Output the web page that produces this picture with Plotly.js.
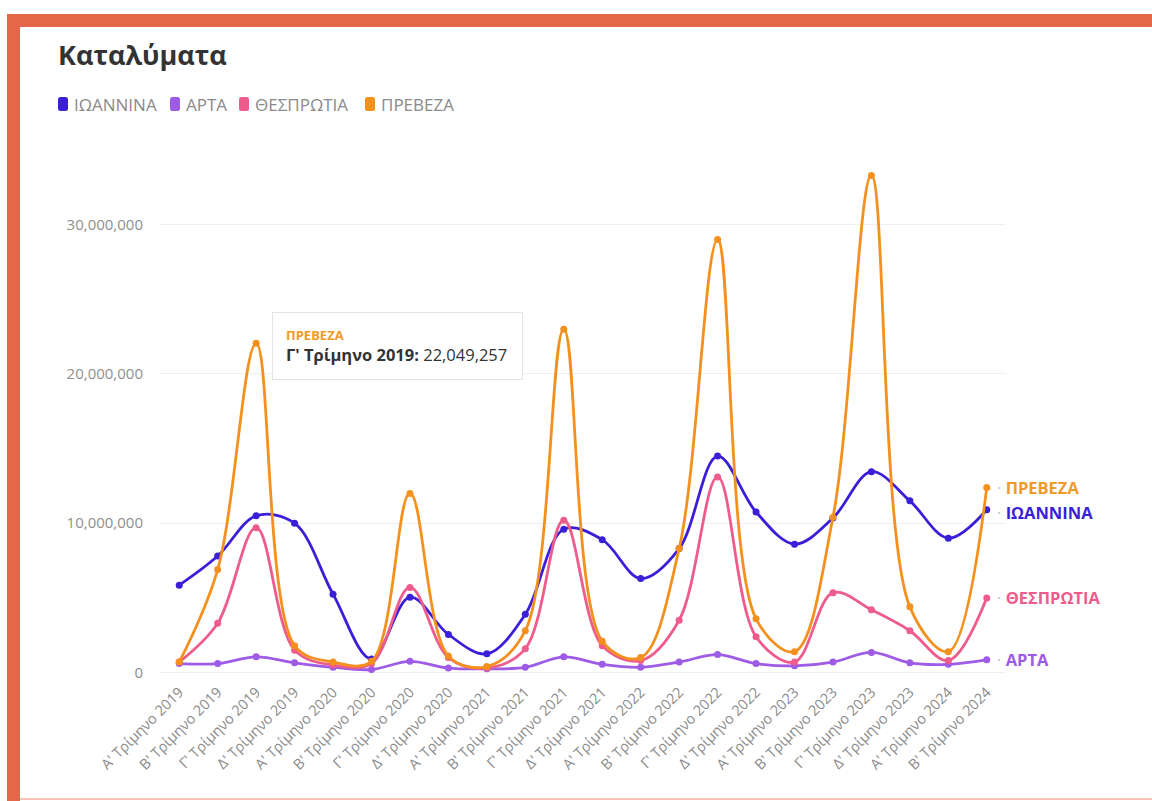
<!DOCTYPE html>
<html>
<head>
<meta charset="utf-8">
<script src="https://cdn.plot.ly/plotly-3.0.1.min.js"></script>
<style>
  html, body { margin: 0; padding: 0; background: #fff; }
  #wrap { position: relative; width: 1152px; height: 801px; overflow: hidden; }
  #chart { position: absolute; left: 0; top: 0; width: 1152px; height: 801px; }
  .frame-top { position: absolute; left: 7px; top: 14px; width: 1145px; height: 13px; background: #e5674a; }
  .frame-left { position: absolute; left: 7px; top: 14px; width: 13px; height: 787px; background: #e5674a; }
  .frame-bottom { position: absolute; left: 20px; top: 798px; width: 1132px; height: 2px; background: #f6c2b6; }
</style>
</head>
<body>
<div id="wrap">
  <div id="chart"></div>
  <div class="frame-top"></div>
  <div class="frame-left"></div>
  <div class="frame-bottom"></div>
</div>
<script>
const categories = [
  "Α' Τρίμηνο 2019","Β' Τρίμηνο 2019","Γ' Τρίμηνο 2019","Δ' Τρίμηνο 2019",
  "Α' Τρίμηνο 2020","Β' Τρίμηνο 2020","Γ' Τρίμηνο 2020","Δ' Τρίμηνο 2020",
  "Α' Τρίμηνο 2021","Β' Τρίμηνο 2021","Γ' Τρίμηνο 2021","Δ' Τρίμηνο 2021",
  "Α' Τρίμηνο 2022","Β' Τρίμηνο 2022","Γ' Τρίμηνο 2022","Δ' Τρίμηνο 2022",
  "Α' Τρίμηνο 2023","Β' Τρίμηνο 2023","Γ' Τρίμηνο 2023","Δ' Τρίμηνο 2023",
  "Α' Τρίμηνο 2024","Β' Τρίμηνο 2024"
];
const ioannina = [5850000,7800000,10500000,10000000,5250000,900000,5050000,2550000,1250000,3900000,9600000,8900000,6300000,8300000,14500000,10750000,8600000,10350000,13450000,11500000,9000000,10900000];
const arta = [600000,600000,1050000,650000,350000,200000,750000,300000,250000,350000,1050000,550000,350000,700000,1200000,600000,450000,700000,1350000,650000,550000,850000];
const thesprotia = [700000,3300000,9700000,1500000,500000,600000,5700000,1000000,300000,1600000,10200000,1800000,800000,3500000,13100000,2400000,700000,5350000,4200000,2800000,800000,5000000];
const preveza = [700000,6900000,22049257,1800000,700000,750000,12000000,1100000,400000,2800000,23000000,2100000,1000000,8300000,29000000,3600000,1400000,10400000,33300000,4400000,1400000,12400000];

const seriesNames = ["ΙΩΑΝΝΙΝΑ","ΑΡΤΑ","ΘΕΣΠΡΩΤΙΑ","ΠΡΕΒΕΖΑ"];
const seriesData = [ioannina, arta, thesprotia, preveza];
const seriesColors = ["#3a1fd9","#9d5be6","#ee5c8c","#f4901e"];
const labelColors = ["#3a1fd9","#9d5be6","#ee5c8c","#f09a28"];

const FONT = "Open Sans, Lato, sans-serif";

// plot-area geometry (pixels) used for placing legend/tooltip decorations
const PL = 160, PR = 1006, PT = 150, PB = 680;
const px = x => (x - PL) / (PR - PL);
const py = y => (PB - y) / (PB - PT);

const traces = seriesNames.map((n, i) => ({
  type: "scatter", mode: "lines+markers", name: n,
  x: categories, y: seriesData[i],
  line: { color: seriesColors[i], width: 2.8, shape: "spline", smoothing: 1 },
  marker: { color: seriesColors[i], size: 7 },
  showlegend: false, hoverinfo: "skip"
}));

const last = categories.length - 1;
const annotations = seriesNames.map((n, i) => ({
  x: categories[last], y: seriesData[i][last], xref: "x", yref: "y",
  text: "<span style='color:#c8c8c8'>·</span> <b>" + n + "</b>",
  showarrow: false, xanchor: "left", xshift: 8, yshift: (i === 0 ? -3 : 0),
  font: { family: FONT, size: 16.5, color: labelColors[i] }
}));

// custom legend: square swatches + labels
const legendSwatchX = [58, 170, 239, 365];
const shapes = [];
seriesNames.forEach((n, i) => {
  const x0 = px(legendSwatchX[i]), x1 = px(legendSwatchX[i] + 10);
  const y0 = py(111), y1 = py(97);
  const rx = 2.5 / (PR - PL), ry = 2.5 / (PB - PT);
  shapes.push({
    type: "path", xref: "paper", yref: "paper", layer: "above",
    path: `M ${x0+rx} ${y0} L ${x1-rx} ${y0} Q ${x1} ${y0} ${x1} ${y0+ry} L ${x1} ${y1-ry} Q ${x1} ${y1} ${x1-rx} ${y1} L ${x0+rx} ${y1} Q ${x0} ${y1} ${x0} ${y1-ry} L ${x0} ${y0+ry} Q ${x0} ${y0} ${x0+rx} ${y0} Z`,
    fillcolor: seriesColors[i], line: { width: 0 }
  });
  annotations.push({
    xref: "paper", yref: "paper", x: px(legendSwatchX[i] + 14), y: py(104),
    xanchor: "left", yanchor: "middle", showarrow: false,
    text: n, font: { family: FONT, size: 17, color: "#8a8a8a" }
  });
});

// tooltip box
annotations.push({
  xref: "paper", yref: "paper", x: px(272), y: py(312), xanchor: "left", yanchor: "top",
  showarrow: false, align: "left",
  text: "<span style='color:#f09a28;font-size:13px'><b>" + seriesNames[3] + "</b></span><br><b>" + categories[2] + ":</b> " + preveza[2].toLocaleString("en-US"),
  font: { family: FONT, size: 16.5, color: "#333" },
  bgcolor: "#ffffff", bordercolor: "#e4e4e4", borderwidth: 1, borderpad: 13,
  width: 223
});

const layout = {
  width: 1152, height: 801,
  margin: { l: PL, r: 1152 - PR, t: PT, b: 801 - PB },
  paper_bgcolor: "#ffffff", plot_bgcolor: "#ffffff",
  font: { family: FONT, color: "#888" },
  showlegend: false,
  title: {
    text: "<b>Καταλύματα</b>", xref: "container", yref: "container",
    x: 58 / 1152, xanchor: "left", y: 1 - 56 / 801, yanchor: "middle",
    font: { family: FONT, size: 27, color: "#333" }
  },
  xaxis: {
    type: "category", range: [-0.5, 21.5], tickangle: -45,
    showgrid: false, zeroline: false, showline: false, ticks: "",
    tickfont: { family: FONT, size: 14.5, color: "#8a8a8a" }
  },
  yaxis: {
    range: [-500000, 35000000], tickvals: [0, 10000000, 20000000, 30000000],
    tickformat: ",d", showgrid: true, gridcolor: "#f0f0f0", zeroline: false,
    showline: false, ticks: "", ticklabelstandoff: 16,
    tickfont: { family: FONT, size: 15, color: "#8f8f8f" }
  },
  shapes: shapes,
  annotations: annotations,
  hovermode: false
};

Plotly.newPlot("chart", traces, layout, { displayModeBar: false, staticPlot: true });
</script>
</body>
</html>
